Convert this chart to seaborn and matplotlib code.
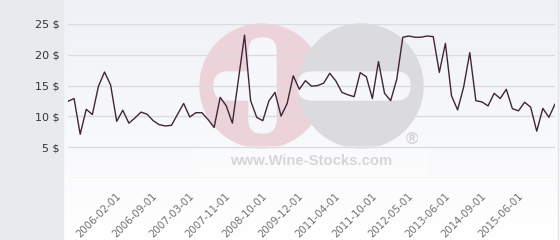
import numpy as np
import matplotlib
matplotlib.use("Agg")
import matplotlib.pyplot as plt
from matplotlib.patches import Rectangle, Circle, FancyBboxPatch
import seaborn as sns

# ---- data -------------------------------------------------------------
prices = [12.45, 12.9, 7.1, 11.15, 10.3, 14.9, 17.2, 15.1, 9.2, 11.0,
          8.9, 9.75, 10.7, 10.35, 9.3, 8.65, 8.45, 8.55, 10.35, 12.1,
          9.9, 10.6, 10.6, 9.5, 8.2, 13.1, 11.7, 8.9, 16.0, 23.2,
          12.55, 9.85, 9.3, 12.5, 13.9, 10.05, 12.1, 16.6, 14.4, 15.8,
          14.9, 15.0, 15.4, 17.0, 15.75, 13.9, 13.5, 13.2, 17.1, 16.45,
          12.9, 18.9, 13.75, 12.55, 16.0, 22.85, 23.05, 22.85, 22.85, 23.05,
          22.95, 17.15, 21.85, 13.35, 11.05, 14.8, 20.35, 12.55, 12.35, 11.7,
          13.75, 12.9, 14.4, 11.25, 10.9, 12.3, 11.5, 7.6, 11.3, 9.85,
          12.0]
tick_labels = ["2006-02-01", "2006-09-01", "2007-03-01", "2007-11-01",
               "2008-10-01", "2009-12-01", "2011-04-01", "2011-10-01",
               "2012-05-01", "2013-06-01", "2014-09-01", "2015-06-01"]
y_ticks = [0, 5, 10, 15, 20, 25]
tick_first, tick_step = 9, 6

# ---- style ------------------------------------------------------------
sns.set_style("white")
plt.rcParams['font.family'] = ['DejaVu Sans']

W, H = 560, 240
fig = plt.figure(figsize=(W / 100, H / 100), dpi=100)

# background layer in pixel coordinates
bg = fig.add_axes([0, 0, 1, 1])
bg.axis('off')
top = np.array([0xef, 0xf1, 0xf6]) / 255
bot = np.array([1.0, 1.0, 1.0])
t = np.linspace(0, 1, 256)[:, None]
grad = (top * (1 - t) + bot * t)[:, None, :]
bg.imshow(grad, extent=[63, W, H, 0], aspect='auto', zorder=0)
bg.add_patch(Rectangle((0, 0), 63, H, color='#e7ebee', zorder=1))
bg.plot([557.5, 557.5], [0, H], color='#e2e4e8', lw=1, zorder=1)

# watermark logo
pink, grey, hole = '#ecd3da', '#dbdbdd', '#f6f7fa'
bg.add_patch(Circle((262, 86), 62, color=pink, zorder=2))
bg.add_patch(FancyBboxPatch((214, 72), 48, 28, boxstyle="round,pad=0,rounding_size=14",
                            color=hole, zorder=3))
bg.add_patch(FancyBboxPatch((249, 38), 27, 95, boxstyle="round,pad=0,rounding_size=13",
                            color=hole, zorder=3))
bg.add_patch(Circle((361, 86), 62, color=grey, zorder=4))
bg.add_patch(FancyBboxPatch((298, 72), 112, 28, boxstyle="round,pad=0,rounding_size=14",
                            color=hole, zorder=5))
bg.add_patch(Rectangle((197, 146), 230, 29, color='white', alpha=0.3, zorder=5))
bg.text(311, 161, "www.Wine-Stocks.com", family='Liberation Sans', weight='bold',
        fontsize=10.7, color='#d6d6d8', ha='center', va='center', zorder=6)
bg.text(412, 140, "\u00ae", family='Liberation Sans', weight='bold',
        fontsize=12, color='#d3d3d5', ha='center', va='center', zorder=6)
bg.set_xlim(0, W)
bg.set_ylim(H, 0)

# main chart
ax = fig.add_axes([68 / W, (H - 178) / H, 487 / W, 154 / H])
ax.patch.set_alpha(0)
idx = np.arange(len(prices))
sns.lineplot(x=idx, y=prices, ax=ax, color='#3f2636', linewidth=1.0)
ax.set_xlim(0, len(prices) - 1)
ax.set_ylim(0, 25)
ax.set_yticks(y_ticks, ['' if v == 0 else f"{v} $" for v in y_ticks])
ax.set_xticks([tick_first + tick_step * k for k in range(len(tick_labels))],
              tick_labels, rotation=45, ha='right')
ax.tick_params(axis='y', length=0, pad=5.8, labelsize=8, labelcolor='#333333')
ax.tick_params(axis='x', length=0, pad=9.5, labelsize=7.3, labelcolor='#707070')
ax.grid(axis='y', color='#dcdcdf', linewidth=1)
ax.grid(axis='x', visible=False)
for s in ax.spines.values():
    s.set_visible(False)

fig.savefig("out.png", dpi=100)
